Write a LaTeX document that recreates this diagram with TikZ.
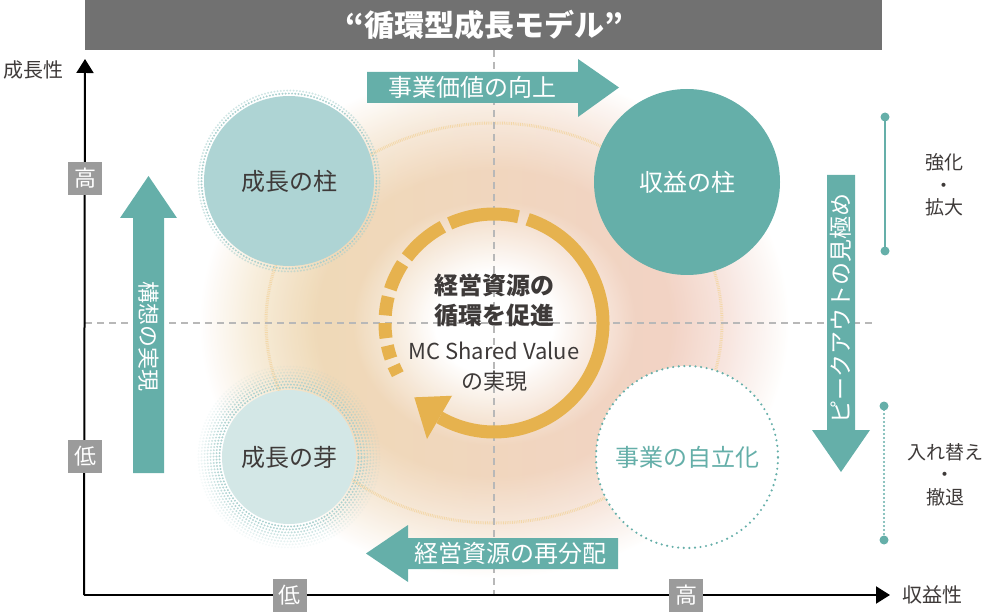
\documentclass[tikz,border=0pt]{standalone}
\usepackage{fontspec}
\setmainfont{Noto Sans CJK JP}
\usetikzlibrary{arrows.meta}
\usetikzlibrary{calc}
\usetikzlibrary{fadings}

\definecolor{darkText}{HTML}{3E3A39}
\definecolor{titleGray}{HTML}{717171}
\definecolor{boxGray}{HTML}{9B9B9B}
\definecolor{guideGray}{HTML}{B8B8B8}
\definecolor{tealMain}{HTML}{65AFA9}
\definecolor{tealLight}{HTML}{AED4D4}
\definecolor{tealPale}{HTML}{D3E7E6}
\definecolor{tealDots}{HTML}{A6CECC}
\definecolor{ringGold}{HTML}{E6B24E}
\definecolor{orbitGold}{HTML}{F3D7A8}
\definecolor{glowBeige}{HTML}{EFDCB4}
\definecolor{glowPink}{HTML}{F3D1C9}
\colorlet{glowBeigeSoft}{glowBeige!55!white}
\colorlet{glowPinkSoft}{glowPink!55!white}

\pgfdeclareradialshading{glowShadeBeige}{\pgfpointorigin}{color(0bp)=(white); color(5bp)=(white); color(12bp)=(glowBeige); color(15bp)=(glowBeige); color(20bp)=(glowBeigeSoft); color(25bp)=(white); color(50bp)=(white)}
\pgfdeclareradialshading{glowShadePink}{\pgfpointorigin}{color(0bp)=(white); color(5bp)=(white); color(12bp)=(glowPink); color(15bp)=(glowPink); color(20bp)=(glowPinkSoft); color(25bp)=(white); color(50bp)=(white)}

\begin{document}
\begin{tikzpicture}[x=1pt, y=1pt, font=\fontsize{20}{24}\selectfont, text=darkText]
	\tikzstyle{titleStyle}=[text=white, font=\fontsize{30}{34}\selectfont\bfseries]
	\tikzstyle{axisStyle}=[line width=2pt, -{Triangle[length=14pt, width=17pt]}]
	\tikzstyle{axisBox}=[fill=boxGray, text=white, minimum width=34pt, minimum height=33pt, inner sep=0pt, font=\fontsize{22}{24}\selectfont]
	\tikzstyle{guideStyle}=[guideGray, line width=1.4pt, dash pattern=on 7pt off 5pt]
	\tikzstyle{orbitStyle}=[orbitGold, line width=3pt, dash pattern=on 0.8pt off 1pt]
	\tikzstyle{halftone}=[tealDots, line width=2.2pt, line cap=round, dash pattern=on 0pt off 3.2pt]
	\tikzstyle{pillarLabel}=[font=\fontsize{24}{28}\selectfont]
	\tikzstyle{ringStyle}=[draw=ringGold, line width=13pt]
	\tikzstyle{arrowStyle}=[fill=tealMain]
	\tikzstyle{arrowLabel}=[text=white, font=\fontsize{24}{28}\selectfont]
	\tikzstyle{sideLabel}=[align=center, font=\fontsize{19}{22.5}\selectfont]
	\tikzstyle{bracketDot}=[fill=tealMain]
	\useasboundingbox (0,0) rectangle (988,614);

	% glow behind the cycle
	\coordinate (ctr) at (494,291);
	\shade[shading=glowShadeBeige] (ctr) ellipse [x radius=295, y radius=255];
	\shade[shading=glowShadePink, path fading=west] (ctr) ellipse [x radius=295, y radius=255];
	\draw[orbitStyle] (ctr) ellipse [x radius=228, y radius=200];

	% guides and axes
	\draw[guideStyle] (85,291) -- (875,291);
	\draw[guideStyle] (494,564) -- (494,19);
	\coordinate (origin) at (84,19);
	\coordinate (yTip) at (85,555);
	\coordinate (xTip) at (890,19);
	\draw[axisStyle] (origin) -- (yTip);
	\draw[axisStyle] (origin) -- (xTip);
	\node (growthAxis) at (33,544) {成長性};
	\node (profitAxis) at (932,19) {収益性};
	\node[axisBox] (yHigh) at (85,435.5) {高};
	\node[axisBox] (yLow) at (85,157.5) {低};
	\node[axisBox] (xLow) at (289.5,18.5) {低};
	\node[axisBox] (xHigh) at (686,18.5) {高};

	% title
	\fill[titleGray] (85,564) rectangle (882,614);
	\node[titleStyle] (title) at (484,589) {“循環型成長モデル”};

	% four circles
	\fill[tealLight] (289,433) circle (85);
	\foreach \r/\o in {87.5/0.95, 90.5/0.55}
		\draw[halftone, opacity=\o] (289,433) circle (\r);
	\node[pillarLabel] (growthPillar) at (289,433) {成長の柱};

	\fill[tealMain] (687,432) circle (93);
	\node[pillarLabel, text=white] (profitPillar) at (687,432) {収益の柱};

	\foreach \r/\o in {69.5/0.95, 72.5/0.85, 75.5/0.7, 78.5/0.55, 81.5/0.42, 84.5/0.3, 87.5/0.2, 90.5/0.1}
		\draw[halftone, opacity=\o] (289,157) circle (\r);
	\fill[tealPale] (289,157) circle (67);
	\node[pillarLabel] (growthSeed) at (289,157) {成長の芽};

	\fill[white] (687,157) circle (91);
	\draw[tealMain, line width=2.4pt, line cap=round, dash pattern=on 0pt off 5.6pt] (687,157) circle (91);
	\node[pillarLabel, text=tealMain] (selfReliant) at (687,157) {事業の自立化};

	% cycle ring
	\draw[ringStyle] ($(ctr)+(72:109)$) arc[start angle=72, end angle=-120, radius=109];
	\fill[ringGold] ($(ctr)+(-120:84)$) -- ($(ctr)+(-120:134)$) -- ($(ctr)+(-137:109)$) -- cycle;
	\foreach \a/\b in {77/114, 118/143, 147/162, 166/176, 180/188, 192/199, 203/208}
		\draw[ringStyle] ($(ctr)+(\a:109)$) arc[start angle=\a, end angle=\b, radius=109];
	\node[font=\fontsize{24}{30}\selectfont\bfseries, align=center] (cycleTitle) at (494,314) {経営資源の\\循環を促進};
	\node[font=\fontsize{22}{30}\selectfont, align=center] (cycleSub) at (494,247) {MC Shared Value\\の実現};

	% arrows
	\fill[arrowStyle] (367,511) -- (367,542) -- (578,542) -- (578,555) -- (619,526.5) -- (578,497) -- (578,511) -- cycle;
	\node[arrowLabel] (valueUp) at (472,526.5) {事業価値の向上};
	\fill[arrowStyle] (618,45) -- (618,76) -- (408,76) -- (408,89) -- (366,60.5) -- (408,32) -- (408,45) -- cycle;
	\node[arrowLabel] (realloc) at (510,60.5) {経営資源の再分配};
	\fill[arrowStyle] (133,141) -- (164,141) -- (164,396) -- (177,396) -- (148.5,438) -- (120,396) -- (133,396) -- cycle;
	\node[arrowLabel, rotate=-90, font=\fontsize{22}{26}\selectfont] (vision) at (148.5,277) {構想の実現};
	\fill[arrowStyle] (827,439) -- (855,439) -- (855,184) -- (870,184) -- (841,142) -- (812,184) -- (827,184) -- cycle;
	\node[arrowLabel, rotate=90, font=\fontsize{23}{26}\selectfont] (peakOut) at (841,306) {ピークアウトの見極め};

	% right brackets
	\coordinate (keepTop) at (885,497);
	\coordinate (keepBot) at (885,363);
	\draw[tealMain, line width=2.6pt] (keepTop) -- (keepBot);
	\fill[bracketDot] (keepTop) circle (4.5) (keepBot) circle (4.5);
	\node[sideLabel] (keepText) at (944,429) {強化\\・\\拡大};
	\coordinate (exitTop) at (884,208);
	\coordinate (exitBot) at (884,74);
	\draw[tealMain, line width=2.4pt, line cap=round, dash pattern=on 0pt off 4pt] (exitTop) -- (exitBot);
	\fill[bracketDot] (exitTop) circle (4.5) (exitBot) circle (4.5);
	\node[sideLabel] (exitText) at (945,139.5) {入れ替え\\・\\撤退};
\end{tikzpicture}
\end{document}
